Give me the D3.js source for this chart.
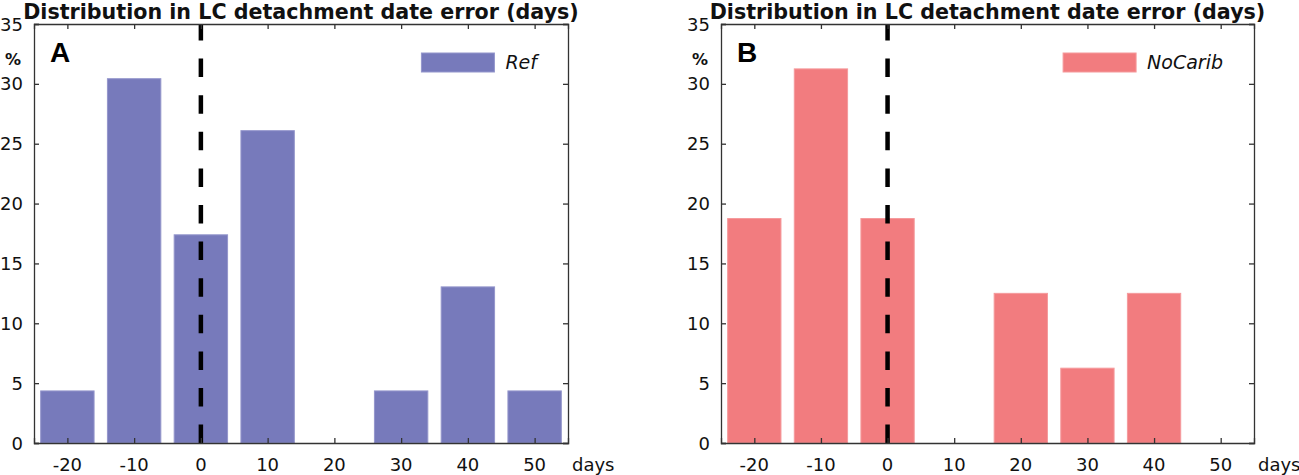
<!DOCTYPE html>
<html>
<head>
<meta charset="utf-8">
<script src="https://cdn.jsdelivr.net/npm/d3@7"></script>
<style>
  body { margin: 0; background: #fff; }
  svg { display: block; font-family: "DejaVu Sans", sans-serif; }
</style>
</head>
<body>
<div id="chart"></div>
<script>
// data
const days = [-20, -10, 0, 10, 20, 30, 40, 50];
const refPct = [4.35, 30.43, 17.39, 26.09, 0, 4.35, 13.04, 4.35];
const noCaribPct = [18.75, 31.25, 18.75, 0, 12.5, 6.25, 12.5, 0];
const xTicks = [-20, -10, 0, 10, 20, 30, 40, 50];
const yTicks = [0, 5, 10, 15, 20, 25, 30, 35];
const titleText = "Distribution in LC detachment date error (days)";

const W = 1299, H = 475;

const svg = d3.select("#chart")
  .append("svg")
  .attr("width", W)
  .attr("height", H);

svg.append("rect").attr("width", W).attr("height", H).attr("fill", "#fff");

const panels = [
  { letter: "A", name: "Ref", values: refPct, fill: "#777abb", edge: "#9496cc", left: 34, right: 568 },
  { letter: "B", name: "NoCarib", values: noCaribPct, fill: "#f27c7f", edge: "#f59a9c", left: 721, right: 1254 }
];
const plotTop = 24, plotBottom = 443;

panels.forEach(p => {
  const x = d3.scaleLinear().domain([-25, 55]).range([p.left, p.right]);
  const y = d3.scaleLinear().domain([0, 35]).range([plotBottom, plotTop]);
  const g = svg.append("g");
  const barW = x(8) - x(0);

  // bars
  g.selectAll("rect.bar")
    .data(days.map((d, i) => ({ day: d, v: p.values[i] })).filter(d => d.v > 0))
    .enter()
    .append("rect")
    .attr("class", "bar")
    .attr("x", d => x(d.day) - barW / 2)
    .attr("y", d => y(d.v))
    .attr("width", barW)
    .attr("height", d => y(0) - y(d.v))
    .attr("fill", p.fill)
    .attr("stroke", p.edge)
    .attr("stroke-width", 1);

  // zero line
  g.append("line")
    .attr("x1", x(0)).attr("x2", x(0))
    .attr("y1", plotTop).attr("y2", plotBottom)
    .attr("stroke", "#000")
    .attr("stroke-width", 4.5)
    .attr("stroke-dasharray", "18.5,18.1")
    .attr("stroke-dashoffset", 2);

  // axes (inward ticks, box)
  const axisCol = "#333";
  g.append("g").attr("transform", `translate(0,${plotBottom})`)
    .call(d3.axisTop(x).tickValues(xTicks).tickSize(5).tickFormat(""))
    .call(a => a.selectAll("line,path").attr("stroke", axisCol).attr("stroke-width", 1.3));
  g.append("g").attr("transform", `translate(0,${plotTop})`)
    .call(d3.axisBottom(x).tickValues(xTicks).tickSize(5).tickFormat(""))
    .call(a => a.selectAll("line,path").attr("stroke", axisCol).attr("stroke-width", 1.3));
  g.append("g").attr("transform", `translate(${p.left},0)`)
    .call(d3.axisRight(y).tickValues(yTicks).tickSize(5).tickFormat(""))
    .call(a => a.selectAll("line,path").attr("stroke", axisCol).attr("stroke-width", 1.3));
  g.append("g").attr("transform", `translate(${p.right},0)`)
    .call(d3.axisLeft(y).tickValues(yTicks).tickSize(5).tickFormat(""))
    .call(a => a.selectAll("line,path").attr("stroke", axisCol).attr("stroke-width", 1.3));

  // tick labels
  g.selectAll("text.xl")
    .data(xTicks)
    .enter()
    .append("text")
    .attr("x", d => x(d))
    .attr("y", 471)
    .attr("text-anchor", "middle")
    .attr("font-size", 18)
    .attr("fill", "#111")
    .text(d => d < 0 ? "-" + Math.abs(d) : d);
  g.selectAll("text.yl")
    .data(yTicks)
    .enter()
    .append("text")
    .attr("x", p.left - 11)
    .attr("y", d => y(d) + 6.5)
    .attr("text-anchor", "end")
    .attr("font-size", 18)
    .attr("fill", "#111")
    .text(d => d);

  g.append("text")
    .attr("x", p.right + 4).attr("y", 471)
    .attr("font-size", 18).attr("fill", "#111")
    .text("days");
  g.append("text")
    .attr("x", p.left - 13).attr("y", 65)
    .attr("text-anchor", "end")
    .attr("font-size", 16).attr("font-weight", "bold").attr("fill", "#111")
    .text("%");

  // panel letter
  g.append("text")
    .attr("x", p.left + 16).attr("y", 62)
    .attr("font-family", "Liberation Sans, Arial, sans-serif")
    .attr("font-size", 28).attr("font-weight", "bold")
    .text(p.letter);

  // title, scaled to the width it spans in the figure
  const t = g.append("text")
    .attr("x", (p.left + p.right) / 2).attr("y", 19)
    .attr("text-anchor", "middle")
    .attr("font-size", 20).attr("font-weight", "bold").attr("fill", "#111")
    .text(titleText);
  const len = t.node().getComputedTextLength();
  t.attr("font-size", 20 * 556 / len);

  // legend, right aligned
  const lt = g.append("text")
    .attr("y", 69)
    .attr("font-size", 19).attr("font-style", "italic").attr("fill", "#111")
    .text(p.name);
  const lw = lt.node().getComputedTextLength();
  const tx = p.right - 31 - lw;
  lt.attr("x", tx);
  g.append("rect")
    .attr("x", tx - 11 - 73).attr("y", 53)
    .attr("width", 73).attr("height", 19)
    .attr("fill", p.fill).attr("stroke", p.edge).attr("stroke-width", 1);
});
</script>
</body>
</html>
